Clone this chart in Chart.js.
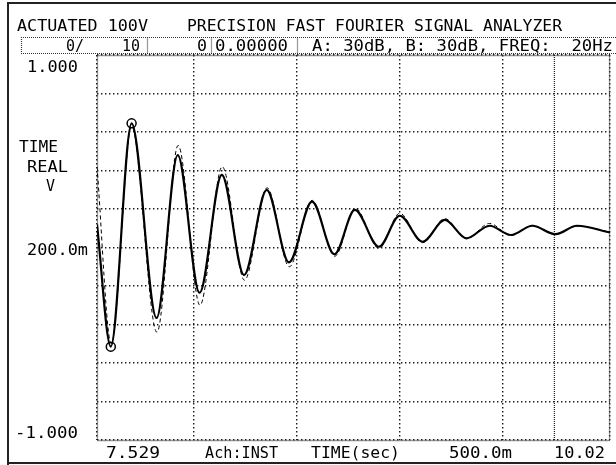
<!DOCTYPE html>
<html>
<head>
<meta charset="utf-8">
<script src="https://cdn.jsdelivr.net/npm/chart.js@4.4.1/dist/chart.umd.min.js"></script>
<style>
  html, body { margin: 0; padding: 0; background: #fff; }
  #wrap { width: 616px; height: 465px; }
</style>
</head>
<body>
<div id="wrap"><canvas id="c" width="616" height="465"></canvas></div>
<script>
// ---- axis ranges ----
const timeStart = 7.529;           // s, left edge of record
const timeEnd = 10.02;             // s, right edge of record
const timeGrid = [8.0, 8.5, 9.0, 9.5];
const markerTime = [9.75];         // x cursor line
const voltMin = -1.0;
const voltMax = 1.0;
const voltStep = 0.2;              // 200.0m per division

// ---- measured response (solid trace): extrema of the ring-down ----
const solidTime = [7.529, 7.596, 7.697, 7.818, 7.921, 8.027, 8.135, 8.243, 8.353, 8.461,
                   8.573, 8.682, 8.781, 8.898, 8.999, 9.110, 9.218, 9.323, 9.435, 9.539,
                   9.643, 9.755, 9.860, 10.02];
const solidVolt = [0.12, -0.515, 0.645, -0.366, 0.48, -0.235, 0.377, -0.143, 0.299, -0.077,
                   0.238, -0.035, 0.195, 0.004, 0.165, 0.030, 0.143, 0.048, 0.113, 0.065,
                   0.113, 0.069, 0.113, 0.078];

// ---- fitted response (dashed trace) ----
const dashedTime = [7.529, 7.598, 7.697, 7.820, 7.923, 8.029, 8.137, 8.245, 8.355, 8.463,
                    8.573, 8.684, 8.783, 8.898, 8.999, 9.110, 9.218, 9.323, 9.435, 9.539,
                    9.643, 9.755, 9.860, 10.02];
const dashedVolt = [0.42, -0.50, 0.63, -0.44, 0.53, -0.30, 0.42, -0.17, 0.31, -0.10,
                    0.245, -0.045, 0.205, -0.005, 0.178, 0.025, 0.150, 0.045, 0.125, 0.062,
                    0.115, 0.068, 0.112, 0.080];

// ---- cursor points ----
const cursorTime = [7.596, 7.697];
const cursorVolt = [-0.515, 0.645];

// ---- screen annotations ----
const headerTitle = ['ACTUATED 100V', 'PRECISION FAST FOURIER SIGNAL ANALYZER'];
const statusFields = ['0/', '10', '0', '0.00000', 'A: 30dB, B: 30dB, FREQ:  20Hz'];
const yTickLabels = ['1.000', '200.0m', '-1.000'];
const yUnitLines = ['TIME', 'REAL', 'V'];
const xFooter = ['7.529', 'Ach:INST', 'TIME(sec)', '500.0m', '10.02'];

const FONT = '16.5px "DejaVu Sans Mono", "Liberation Mono", monospace';
const INK = '#000';

const pts = (xs, ys) => xs.map((t, i) => ({ x: t, y: ys[i] }));

// draw a string so that it spans [left, right] on the given baseline
function spanText(ctx, text, left, right, base) {
  const w = ctx.measureText(text).width;
  ctx.save();
  ctx.translate(left, base);
  ctx.scale((right - left) / w, 1);
  ctx.fillText(text, 0, 0);
  ctx.restore();
}

const screenPlugin = {
  id: 'screen',
  beforeDatasetsDraw(chart) {
    const { ctx, chartArea: a } = chart;
    ctx.save();
    ctx.strokeStyle = '#333';
    ctx.lineWidth = 1.3;
    ctx.setLineDash([1, 1]);
    ctx.strokeRect(a.left + 0.5, a.top + 0.5, a.right - a.left - 1, a.bottom - a.top);
    ctx.restore();
  },
  afterDraw(chart) {
    const { ctx, chartArea: a, scales } = chart;
    const y = scales.y;
    ctx.save();

    // bezel edge
    ctx.strokeStyle = '#222';
    ctx.lineWidth = 2;
    ctx.setLineDash([]);
    ctx.beginPath();
    ctx.moveTo(8, 465); ctx.lineTo(8, 3); ctx.lineTo(616, 3);
    ctx.moveTo(8, 463); ctx.lineTo(616, 463);
    ctx.stroke();

    // status box
    ctx.strokeStyle = '#333';
    ctx.lineWidth = 1.2;
    ctx.setLineDash([1, 1]);
    ctx.beginPath();
    ctx.moveTo(616, 37.5); ctx.lineTo(21.5, 37.5); ctx.lineTo(21.5, 53.5); ctx.lineTo(616, 53.5);
    [147.5, 211.5, 297.5].forEach(sx => { ctx.moveTo(sx, 37.5); ctx.lineTo(sx, 53.5); });
    ctx.stroke();
    ctx.setLineDash([]);

    ctx.fillStyle = INK;
    ctx.font = FONT;
    ctx.textBaseline = 'alphabetic';
    ctx.textAlign = 'left';

    // title line
    spanText(ctx, headerTitle[0], 17, 148, 31);
    spanText(ctx, headerTitle[1], 187, 562, 31);

    // status line
    spanText(ctx, statusFields[0], 66, 84, 51);
    spanText(ctx, statusFields[1], 122, 140, 51);
    spanText(ctx, statusFields[2], 197, 207, 51);
    spanText(ctx, statusFields[3], 215, 288, 51);
    spanText(ctx, statusFields[4], 312, 613, 51);

    // amplitude labels
    spanText(ctx, yTickLabels[0], 27, 78, y.getPixelForValue(voltMax) + 17);
    spanText(ctx, yTickLabels[1], 27, 88, y.getPixelForValue(0) + 7.5);
    spanText(ctx, yTickLabels[2], 15, 78, y.getPixelForValue(voltMin) - 2);
    spanText(ctx, yUnitLines[0], 19, 58, 152);
    spanText(ctx, yUnitLines[1], 27, 68, 172);
    spanText(ctx, yUnitLines[2], 46, 55, 191);

    // footer
    const fy = a.bottom + 18;
    spanText(ctx, xFooter[0], 106, 160, fy);
    spanText(ctx, xFooter[1], 205, 278, fy);
    spanText(ctx, xFooter[2], 311, 400, fy);
    spanText(ctx, xFooter[3], 449, 512, fy);
    spanText(ctx, xFooter[4], 554, 605, fy);

    ctx.restore();
  }
};

const gridDots = { color: '#1a1a1a', lineWidth: 1.4, drawTicks: false };

new Chart(document.getElementById('c'), {
  type: 'line',
  data: {
    datasets: [
      {
        label: 'cursor line',
        data: [{ x: markerTime[0], y: voltMin }, { x: markerTime[0], y: voltMax }],
        borderColor: '#222', borderWidth: 1.3, borderDash: [1, 1], pointRadius: 0
      },
      {
        label: 'fit',
        data: pts(dashedTime, dashedVolt),
        borderColor: '#000', borderWidth: 1, borderDash: [4, 3],
        pointRadius: 0, cubicInterpolationMode: 'monotone'
      },
      {
        label: 'measured',
        data: pts(solidTime, solidVolt),
        borderColor: '#000', borderWidth: 2.2,
        pointRadius: 0, cubicInterpolationMode: 'monotone'
      },
      {
        label: 'cursors',
        data: pts(cursorTime, cursorVolt),
        showLine: false, pointStyle: 'circle', pointRadius: 4.5,
        borderColor: '#000', borderWidth: 1.5, backgroundColor: 'rgba(255,255,255,0)'
      }
    ]
  },
  options: {
    responsive: false,
    animation: false,
    devicePixelRatio: 1,
    layout: { padding: { left: 97, top: 55, right: 1, bottom: 25 } },
    plugins: { legend: { display: false }, tooltip: { enabled: false } },
    scales: {
      x: {
        type: 'linear', min: timeStart, max: timeEnd,
        ticks: { display: false },
        afterBuildTicks: s => { s.ticks = [timeStart, ...timeGrid, timeEnd].map(v => ({ value: v })); },
        grid: gridDots,
        border: { display: false, dash: [1.4, 2.6] }
      },
      y: {
        type: 'linear', min: voltMin, max: voltMax,
        ticks: { display: false, stepSize: voltStep },
        grid: gridDots,
        border: { display: false, dash: [1.4, 2.6] }
      }
    }
  },
  plugins: [screenPlugin]
});
</script>
</body>
</html>
